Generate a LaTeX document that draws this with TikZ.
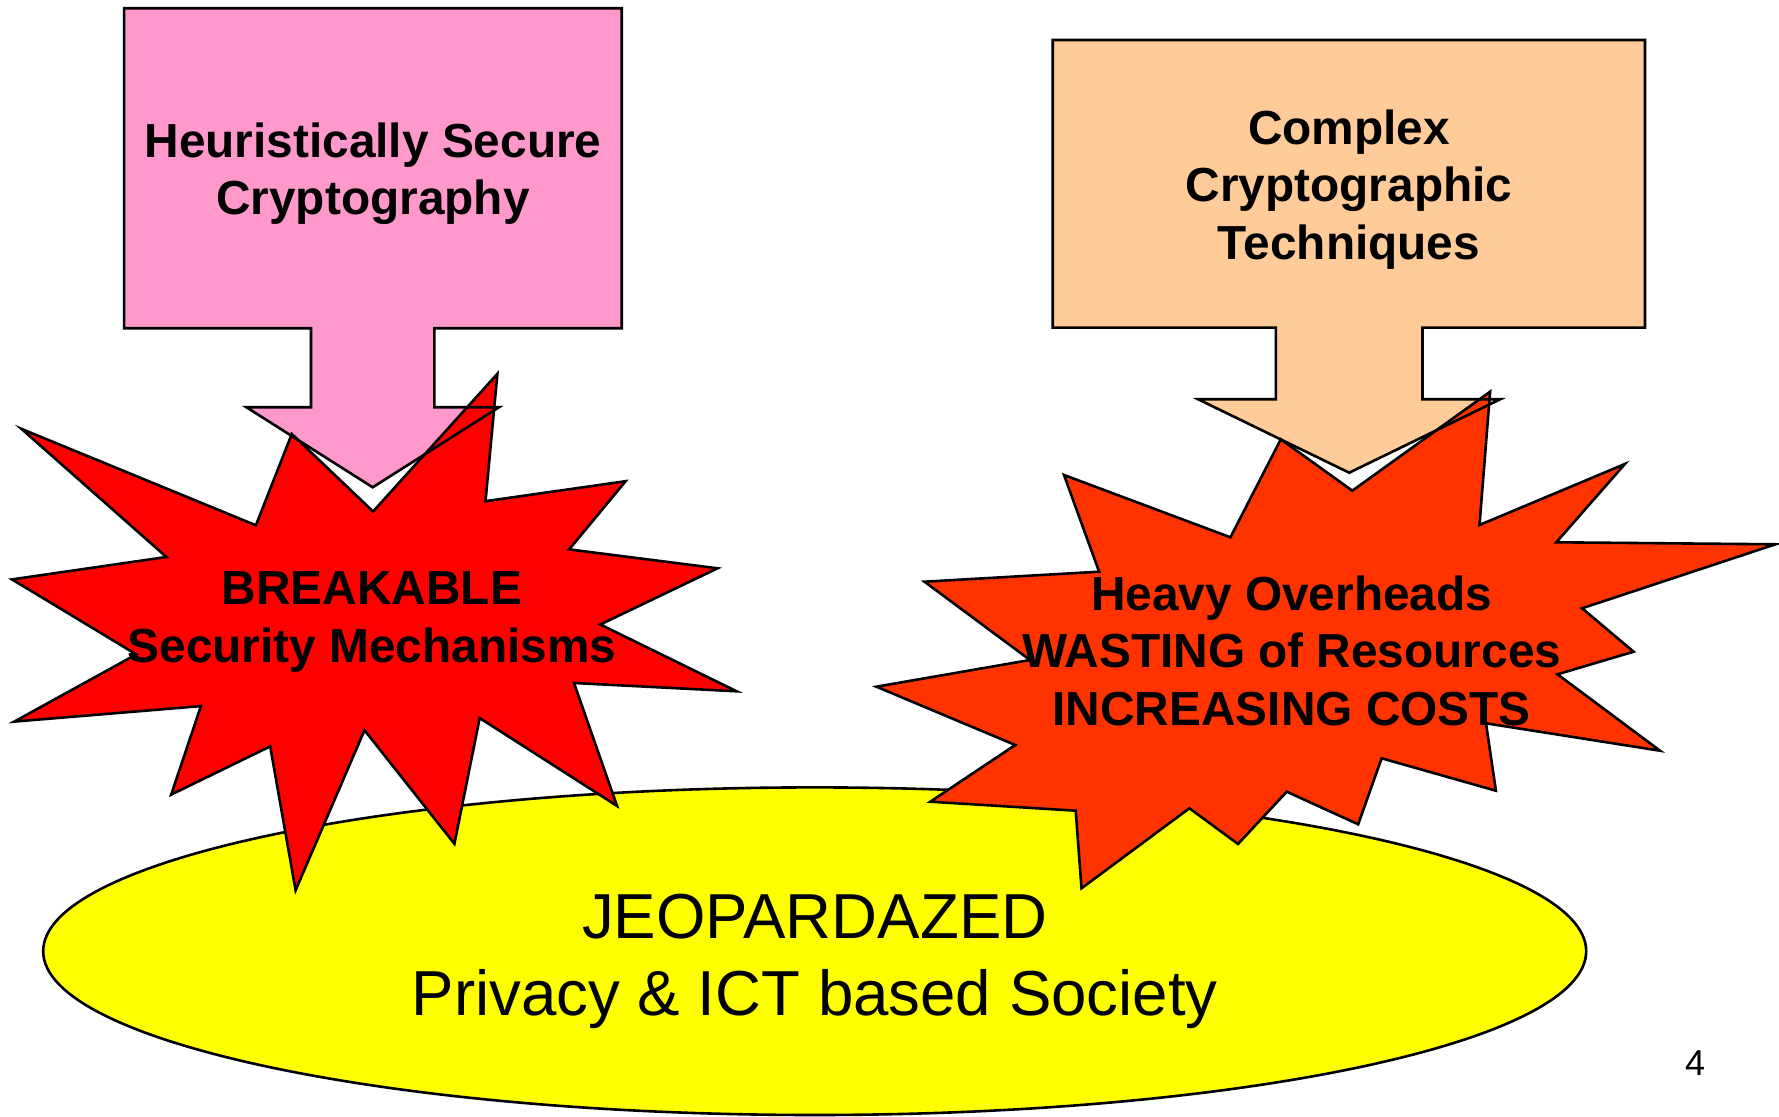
\documentclass[tikz,border=0pt]{standalone}
\usepackage{fontspec}
\setmainfont{Liberation Sans}
\usetikzlibrary{shapes.geometric}
\definecolor{pinkbox}{HTML}{FF99CC}
\definecolor{peachbox}{HTML}{FFCC99}
\definecolor{redburst}{HTML}{FF0000}
\definecolor{orangeburst}{HTML}{FF3300}
\definecolor{yel}{HTML}{FFFF00}
\tikzset{
  outl/.style={draw=black, line width=1.3pt, line join=miter},
  boldlbl/.style={font=\bfseries\fontsize{23.9}{28.8}\selectfont, align=center, inner sep=0pt},
  biglbl/.style={font=\fontsize{31.8}{38.6}\selectfont, align=center, inner sep=0pt}
}
\begin{document}
\begin{tikzpicture}[x=0.5pt,y=-0.5pt]
\path[use as bounding box, fill=white] (0,0) rectangle (1779,1117);

% ellipse
\node[ellipse, outl, fill=yel, minimum width=771.5pt, minimum height=163.8pt, inner sep=0pt, outer sep=0pt] (society) at (814.7,951.2) {};

% arrows (fill)
\def\arrowA{(124.1,8.3) -- (621.7,8.3) -- (621.7,328.3) -- (434.4,328.3) -- (434.4,407.3) -- (498.9,407.3) -- (372.7,487.3) -- (246.5,407.3) -- (311.0,407.3) -- (311.0,328.3) -- (124.1,328.3) -- cycle}
\def\arrowB{(1052.7,40) -- (1645,40) -- (1645,327.7) -- (1422.5,327.7) -- (1422.5,399.3) -- (1500.2,399.3) -- (1349.2,472.7) -- (1198.2,399.3) -- (1275.9,399.3) -- (1275.9,327.7) -- (1052.7,327.7) -- cycle}
\fill[pinkbox] \arrowA;
\fill[peachbox] \arrowB;

% bursts
\draw[outl, fill=redburst] (497.4,373.8) -- (485.5,501.2) -- (625.6,481.2) -- (569.2,549.4) -- (717.5,568.3) -- (600.3,624.5) -- (736.6,691.3) -- (574.0,683.0) -- (617.0,805.9) -- (479.7,718.1) -- (454.4,843.8) -- (364.5,730.2) -- (295.6,890.3) -- (270.2,746.4) -- (171.2,794.6) -- (200.9,706.1) -- (14.3,721.6) -- (136.3,654.4) -- (12.0,579.4) -- (166.4,557.0) -- (21.5,428.9) -- (255.9,525.3) -- (291.8,434.0) -- (373.1,511.5) -- cycle;

\draw[outl, fill=orangeburst] (1490.1,391.7) -- (1479.5,525) -- (1624.9,464) -- (1556.3,542.3) -- (1775.5,544.3) -- (1582.1,608.3) -- (1633.6,651.7) -- (1557.5,674.3) -- (1660.0,750.7) -- (1486.0,723.3) -- (1495.9,790.7) -- (1381.6,758.3) -- (1358.2,824.3) -- (1286.7,791.7) -- (1238.0,844) -- (1189.4,808.3) -- (1081.5,888.3) -- (1075.7,810.7) -- (930.3,801.7) -- (1015.3,745) -- (876.4,686.7) -- (1030.0,660) -- (924.5,581.7) -- (1099.1,571.7) -- (1064.0,475) -- (1230.4,537.3) -- (1280.8,439.3) -- (1352.3,490.7) -- cycle;

% arrow outlines on top
\draw[outl] \arrowA;
\draw[outl] \arrowB;

% texts
\node[boldlbl] (heur) at (373,173.6) {Heuristically Secure\\Cryptography};
\node[boldlbl] (compl) at (1349,189.5) {Complex\\Cryptographic\\Techniques};
\node[boldlbl] (breakable) at (372,622.3) {BREAKABLE\\Security Mechanisms};
\node[boldlbl] (heavy) at (1291.7,650.7) {Heavy Overheads\\WASTING of Resources\\INCREASING COSTS};
\node[biglbl] (jeop) at (814.7,961) {JEOPARDAZED\\Privacy \& ICT based Society};
\node[font=\fontsize{18}{20}\selectfont, inner sep=0pt] (pagenum) at (1695,1063) {4};
\end{tikzpicture}
\end{document}
